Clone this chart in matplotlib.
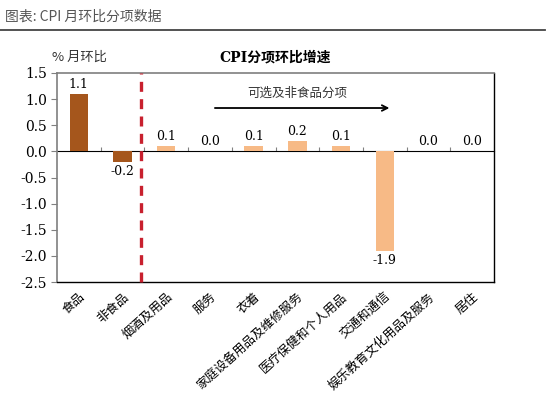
"""
CPI month-on-month change by component (bar chart with food / non-food split).
"""
import matplotlib
matplotlib.use("Agg")
import matplotlib.pyplot as plt

CATEGORIES = ["食品", "非食品", "烟酒及用品", "服务", "衣着",
              "家庭设备用品及维修服务", "医疗保健和个人用品", "交通和通信",
              "娱乐教育文化用品及服务", "居住"]
VALUES = [1.1, -0.2, 0.1, 0.0, 0.1, 0.2, 0.1, -1.9, 0.0, 0.0]
GROUP = ["food", "food", "other", "other", "other",
         "other", "other", "other", "other", "other"]
Y_TICKS = [1.5, 1.0, 0.5, 0.0, -0.5, -1.0, -1.5, -2.0, -2.5]

COLORS = {"food": "#A5561C", "other": "#F7BA86"}
CJK = ["Noto Sans CJK SC", "DejaVu Sans"]
NUM = "DejaVu Serif"

plt.rcParams["font.family"] = CJK


def main():
    fig = plt.figure(figsize=(5.5, 3.96), dpi=100)
    ax = fig.add_axes([57 / 550, 1 - 282 / 396, 437 / 550, 209 / 396])

    x = list(range(len(CATEGORIES)))
    ax.bar(x, VALUES, width=0.42, color=[COLORS[g] for g in GROUP], zorder=2)

    for xi, v in zip(x, VALUES):
        if v < 0:
            ax.text(xi, v - 0.06, f"{v:.1f}", ha="center", va="top",
                    fontsize=9, family=NUM)
        else:
            ax.text(xi, v + 0.06, f"{v:.1f}", ha="center", va="bottom",
                    fontsize=9, family=NUM)

    ax.set_xlim(-0.5, len(CATEGORIES) - 0.5)
    ax.set_ylim(-2.5, 1.5)
    ax.set_yticks(Y_TICKS)
    ax.set_yticklabels([f"{t:.1f}" for t in Y_TICKS], family=NUM, fontsize=10)
    ax.tick_params(axis="y", length=4, color="#808080", pad=3)

    ax.set_xticks(x)
    ax.set_xticklabels(CATEGORIES, rotation=42, ha="right",
                       rotation_mode="anchor", fontsize=9)
    ax.tick_params(axis="x", length=0, pad=6)

    for s in ["top", "left"]:
        ax.spines[s].set_color("#7f7f7f")
        ax.spines[s].set_linewidth(1.2)
    for s in ["bottom", "right"]:
        ax.spines[s].set_color("black")
        ax.spines[s].set_linewidth(1.0)

    # category axis at zero, ticks between categories
    zero = ax.secondary_xaxis(2.5 / 4.0)
    zero.set_xticks([i + 0.5 for i in x[:-1]])
    zero.set_xticklabels([])
    zero.tick_params(length=3, color="#808080", direction="out")
    zero.spines["bottom"].set_color("#a0a0a0")
    zero.spines["bottom"].set_linewidth(1.2)

    # food / non-food divider
    ax.axvline(1.42, color="#C8202E", linestyle=(0, (3, 2.2)),
               linewidth=2.4, zorder=3, clip_on=False)

    ax.annotate("", xy=(7.17, 0.83), xytext=(3.05, 0.83),
                arrowprops=dict(arrowstyle="->", color="black", lw=1.3))
    ax.text(5.0, 1.12, "可选及非食品分项", ha="center", va="center",
            fontsize=9, color="#333333")

    ax.set_title("CPI分项环比增速", fontsize=10, fontweight="bold",
                 family=["DejaVu Serif", "Noto Sans CJK SC"], pad=8,
                 x=0.5)
    fig.text(52 / 550, 1 - 57 / 396, "% 月环比", fontsize=9.5,
             ha="left", va="center", color="#333333")

    # report header
    fig.text(5 / 550, 1 - 17 / 396, "图表: CPI 月环比分项数据", fontsize=10,
             style="italic", color="#555555", ha="left", va="center")
    fig.add_artist(plt.Line2D([0, 545 / 550], [1 - 30 / 396, 1 - 30 / 396],
                              color="#444444", linewidth=1.3))

    fig.savefig("out.png", dpi=100)


if __name__ == "__main__":
    main()
